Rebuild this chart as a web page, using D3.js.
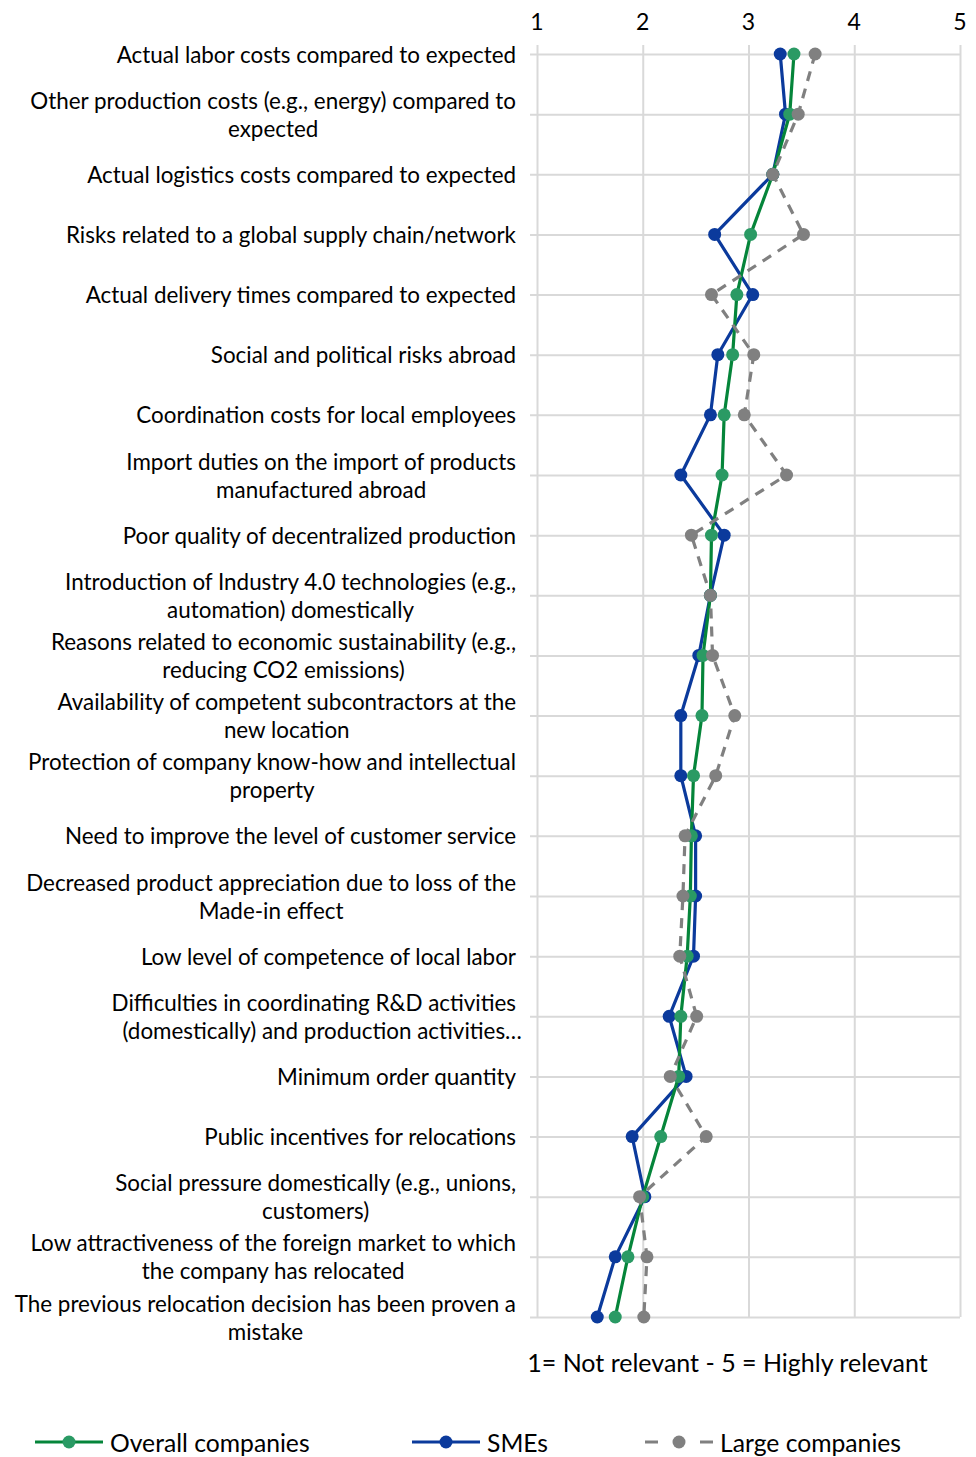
<!DOCTYPE html>
<html>
<head>
<meta charset="utf-8">
<script src="https://cdn.jsdelivr.net/npm/d3@7"></script>
<style>
  html, body { margin: 0; padding: 0; background: #ffffff; }
  svg { display: block; }
  text { font-family: Lato, "Open Sans", sans-serif; fill: #000; }
</style>
</head>
<body>
<svg id="chart" width="976" height="1457"></svg>
<script>
// Reasons for relocation, rated 1 (not relevant) to 5 (highly relevant)
const categories = [
  "Actual labor costs compared to expected",
  "Other production costs (e.g., energy) compared to\nexpected",
  "Actual logistics costs compared to expected",
  "Risks related to a global supply chain/network",
  "Actual delivery times compared to expected",
  "Social and political risks abroad",
  "Coordination costs for local employees",
  "Import duties on the import of products\nmanufactured abroad",
  "Poor quality of decentralized production",
  "Introduction of Industry 4.0 technologies (e.g.,\nautomation) domestically",
  "Reasons related to economic sustainability (e.g.,\nreducing CO2 emissions)",
  "Availability of competent subcontractors at the\nnew location",
  "Protection of company know-how and intellectual\nproperty",
  "Need to improve the level of customer service",
  "Decreased product appreciation due to loss of the\nMade-in effect",
  "Low level of competence of local labor",
  "Difficulties in coordinating R&D activities\n(domestically) and production activities…",
  "Minimum order quantity",
  "Public incentives for relocations",
  "Social pressure domestically (e.g., unions,\ncustomers)",
  "Low attractiveness of the foreign market to which\nthe company has relocated",
  "The previous relocation decision has been proven a\nmistake"
];

const overallValues = [3.43, 3.39, 3.23, 3.02, 2.89, 2.85, 2.77, 2.75, 2.65, 2.64, 2.57,
                       2.56, 2.48, 2.46, 2.45, 2.42, 2.36, 2.34, 2.17, 2.00, 1.86, 1.74];
const smeValues     = [3.30, 3.35, 3.23, 2.68, 3.04, 2.71, 2.64, 2.36, 2.77, 2.64, 2.53,
                       2.36, 2.36, 2.50, 2.50, 2.48, 2.25, 2.41, 1.90, 2.02, 1.74, 1.57];
const largeValues   = [3.63, 3.47, 3.23, 3.52, 2.65, 3.05, 2.96, 3.36, 2.46, 2.64, 2.66,
                       2.87, 2.69, 2.40, 2.38, 2.35, 2.51, 2.26, 2.60, 1.97, 2.04, 2.01];

const tickValues = [1, 2, 3, 4, 5];
const tickLabels = ["1", "2", "3", "4", "5"];
const axisTitle = "1= Not relevant - 5 = Highly relevant";
const seriesNames = ["Overall companies", "SMEs", "Large companies"];

const svg = d3.select("#chart");

const x = d3.scaleLinear().domain([1, 5]).range([537, 960]);
const y = d3.scalePoint().domain(d3.range(categories.length)).range([54, 1317]).padding(0);

const gridColor = "#d9d9d9";

// Value gridlines (vertical), with short tick extensions above the first row
const gx = svg.append("g").attr("transform", `translate(0,${y(categories.length - 1)})`)
  .call(d3.axisBottom(x).tickValues(tickValues).tickFormat("")
    .tickSize(-(y(categories.length - 1) - y(0)) - 9).tickSizeOuter(0));
gx.select(".domain").remove();
gx.selectAll(".tick line").attr("stroke", gridColor).attr("stroke-width", 2);

// Category gridlines (horizontal), extending slightly left of the axis
const gy = svg.append("g").attr("transform", `translate(${x(5)},0)`)
  .call(d3.axisLeft(y).tickFormat("").tickSize(x(5) - x(1) + 7).tickSizeOuter(0));
gy.select(".domain").remove();
gy.selectAll(".tick line").attr("stroke", gridColor).attr("stroke-width", 2);

// Value tick labels on top
svg.append("g").selectAll("text").data(tickValues).join("text")
  .attr("x", d => x(d)).attr("y", 21)
  .attr("text-anchor", "middle").attr("dominant-baseline", "central")
  .style("font-size", "23px")
  .text((d, i) => tickLabels[i]);

// Category labels: right-aligned block, lines centred within it
const labelRight = 516;
const labelSize = 22.4;
const lineGap = 28;
const measure = svg.append("text").style("font-size", labelSize + "px").attr("opacity", 0);
function textWidth(s) { measure.text(s); return measure.node().getComputedTextLength(); }

const labelG = svg.append("g").style("font-size", labelSize + "px");
categories.forEach((c, i) => {
  const lines = c.split("\n");
  const widths = lines.map(l => textWidth(l.replace(/…$/, "")));
  const blockW = d3.max(widths);
  const center = labelRight - blockW / 2;
  const y0 = y(i) - (lines.length - 1) * lineGap / 2;
  lines.forEach((l, k) => {
    labelG.append("text")
      .attr("x", center - widths[k] / 2)
      .attr("y", y0 + k * lineGap)
      .attr("text-anchor", "start")
      .attr("dominant-baseline", "central")
      .text(l);
  });
});
measure.remove();

// Series (drawn SMEs, overall, then large companies on top)
const series = [
  { name: seriesNames[1], values: smeValues, line: "#0b3a9c", marker: "#0b3a9c", dash: null },
  { name: seriesNames[0], values: overallValues, line: "#05853a", marker: "#2a9a64", dash: null },
  { name: seriesNames[2], values: largeValues, line: "#808080", marker: "#808080", dash: "10,8" }
];

const line = d3.line().x(d => x(d)).y((d, i) => y(i));

series.forEach(s => {
  const g = svg.append("g");
  g.append("path").attr("d", line(s.values))
    .attr("fill", "none").attr("stroke", s.line).attr("stroke-width", 3.2)
    .attr("stroke-linejoin", "round")
    .attr("stroke-dasharray", s.dash);
  g.selectAll("circle").data(s.values).join("circle")
    .attr("cx", d => x(d)).attr("cy", (d, i) => y(i)).attr("r", 6.5)
    .attr("fill", s.marker);
});

// Axis title
svg.append("text")
  .attr("x", 727.5).attr("y", 1362)
  .attr("text-anchor", "middle").attr("dominant-baseline", "central")
  .style("font-size", "25px")
  .text(axisTitle);

// Legend
const legendItems = [
  { name: seriesNames[0], x0: 35, line: "#05853a", marker: "#2a9a64", dash: null },
  { name: seriesNames[1], x0: 412, line: "#0b3a9c", marker: "#0b3a9c", dash: null },
  { name: seriesNames[2], x0: 645, line: "#808080", marker: "#808080", dash: "13,42,13" }
];
const ly = 1442;
const lg = svg.append("g");
legendItems.forEach(it => {
  lg.append("line").attr("x1", it.x0).attr("x2", it.x0 + 68).attr("y1", ly).attr("y2", ly)
    .attr("stroke", it.line).attr("stroke-width", 3.2).attr("stroke-dasharray", it.dash);
  lg.append("circle").attr("cx", it.x0 + 34).attr("cy", ly).attr("r", 6.5).attr("fill", it.marker);
  lg.append("text").attr("x", it.x0 + 75).attr("y", ly)
    .attr("dominant-baseline", "central").style("font-size", "24.7px")
    .text(it.name);
});
</script>
</body>
</html>
